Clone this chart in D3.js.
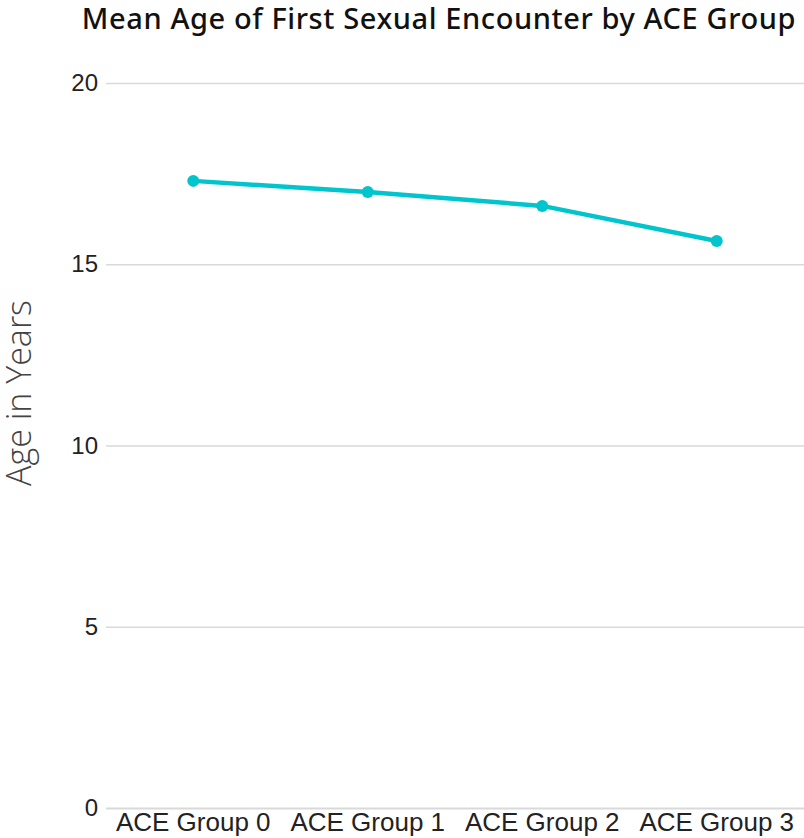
<!DOCTYPE html>
<html>
<head>
<meta charset="utf-8">
<script src="https://cdn.jsdelivr.net/npm/d3@7/dist/d3.min.js"></script>
<style>
  html, body { margin: 0; padding: 0; background: #fff; }
  svg { display: block; }
</style>
</head>
<body>
<svg id="chart" width="804" height="838"></svg>
<script>
// Mean age of first sexual encounter by ACE group
const groups = ["ACE Group 0", "ACE Group 1", "ACE Group 2", "ACE Group 3"];
const meanAge = [17.3, 16.99, 16.61, 15.64];
const yTicks = [0, 5, 10, 15, 20];

const svg = d3.select("#chart");
const W = 804, H = 838;
const margin = { top: 83, right: 0, bottom: 30, left: 106 };

const x = d3.scaleBand()
  .domain(groups)
  .range([margin.left, W - margin.right])
  .padding(0);

const y = d3.scaleLinear()
  .domain([0, 20])
  .range([H - margin.bottom, margin.top]);

// Title
svg.append("text")
  .attr("x", 439)
  .attr("y", 29)
  .attr("text-anchor", "middle")
  .attr("font-family", "'Noto Sans', sans-serif")
  .attr("font-weight", 500)
  .attr("font-size", 29)
  .attr("letter-spacing", 0.6)
  .attr("fill", "#111")
  .text("Mean Age of First Sexual Encounter by ACE Group");

// Horizontal gridlines and y tick labels
const yAxis = svg.append("g")
  .attr("transform", `translate(${margin.left},0)`)
  .call(d3.axisLeft(y)
    .tickValues(yTicks)
    .tickSize(-(W - margin.left - margin.right))
    .tickPadding(8)
    .tickFormat(d3.format("d")));
yAxis.select(".domain").remove();
yAxis.selectAll(".tick line")
  .attr("stroke", "#d9d9d9")
  .attr("stroke-width", d => d === 0 ? 2.2 : 1.3);
yAxis.selectAll(".tick text")
  .attr("font-family", "'Liberation Sans', Arial, sans-serif")
  .attr("font-size", 24)
  .attr("fill", "#222");

// Category labels
const xAxis = svg.append("g")
  .attr("transform", `translate(0,${H - margin.bottom})`)
  .call(d3.axisBottom(x).tickSize(0).tickPadding(5));
xAxis.select(".domain").remove();
xAxis.selectAll(".tick text")
  .attr("font-family", "'Liberation Sans', Arial, sans-serif")
  .attr("font-size", 26)
  .attr("fill", "#222");

// Y-axis title
svg.append("text")
  .attr("transform", `translate(31,393) rotate(-90)`)
  .attr("text-anchor", "middle")
  .attr("font-family", "'Open Sans', sans-serif")
  .attr("font-weight", 300)
  .attr("font-size", 34)
  .attr("fill", "#444")
  .text("Age in Years");

// Line and markers
const color = "#00c5cd";
const pts = groups.map((g, i) => ({ g, v: meanAge[i] }));
const cx = d => x(d.g) + x.bandwidth() / 2;

svg.append("path")
  .datum(pts)
  .attr("fill", "none")
  .attr("stroke", color)
  .attr("stroke-width", 4.5)
  .attr("stroke-linejoin", "round")
  .attr("d", d3.line().x(cx).y(d => y(d.v)));

svg.selectAll("circle.pt")
  .data(pts)
  .join("circle")
  .attr("class", "pt")
  .attr("cx", cx)
  .attr("cy", d => y(d.v))
  .attr("r", 6)
  .attr("fill", color);
</script>
</body>
</html>
